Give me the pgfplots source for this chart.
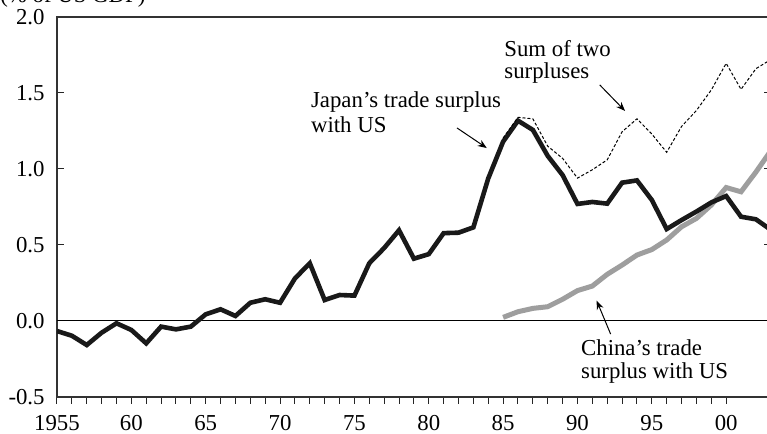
\documentclass[border=0pt]{standalone}
\usepackage{fontspec}
\setmainfont{Liberation Serif}
\usepackage{pgfplots}
\usepackage{pgfplotstable}
\pgfplotsset{compat=1.18}
\usetikzlibrary{arrows.meta}

\pgfplotstableread{
year val
1955 -0.066
1956 -0.097
1957 -0.158
1958 -0.077
1959 -0.015
1960 -0.059
1961 -0.147
1962 -0.037
1963 -0.055
1964 -0.037
1965 0.044
1966 0.077
1967 0.033
1968 0.120
1969 0.143
1970 0.120
1971 0.280
1972 0.380
1973 0.138
1974 0.171
1975 0.167
1976 0.380
1977 0.480
1978 0.597
1979 0.410
1980 0.440
1981 0.578
1982 0.581
1983 0.616
1984 0.938
1985 1.180
1986 1.318
1987 1.257
1988 1.086
1989 0.960
1990 0.770
1991 0.783
1992 0.772
1993 0.910
1994 0.925
1995 0.796
1996 0.605
1997 0.664
1998 0.720
1999 0.780
2000 0.822
2001 0.686
2002 0.669
2003 0.600
}\japan

\pgfplotstableread{
year val
1985 0.024
1986 0.061
1987 0.083
1988 0.094
1989 0.143
1990 0.200
1991 0.230
1992 0.307
1993 0.368
1994 0.434
1995 0.470
1996 0.533
1997 0.620
1998 0.675
1999 0.763
2000 0.878
2001 0.850
2002 0.980
2003 1.120
}\china

\pgfplotstableread{
year val
1985 1.204
1986 1.340
1987 1.330
1988 1.150
1989 1.070
1990 0.940
1991 0.995
1992 1.060
1993 1.245
1994 1.330
1995 1.230
1996 1.110
1997 1.280
1998 1.385
1999 1.520
2000 1.695
2001 1.524
2002 1.660
2003 1.720
}\sumtwo

\begin{document}
\fontsize{11.4}{13.7}\selectfont
\begin{tikzpicture}
\begin{axis}[name=ax, scale only axis, width=356.9pt, height=190pt,
  xmin=1955, xmax=2003, ymin=-0.5, ymax=2,
  xtick={1955,1960,...,2000},
  xticklabels={1955,60,65,70,75,80,85,90,95,00},
  minor x tick num=4,
  ytick={-0.5,0,0.5,1,1.5,2},
  yticklabels={-0.5,0.0,0.5,1.0,1.5,2.0},
  xtick pos=bottom, ytick pos=both,
  xtick align=outside, ytick align=inside,
  major tick length=3.3pt, minor tick length=3.3pt,
  axis line style={black!80, line width=0.8pt},
  tick style={black!85, line width=0.5pt},
  ticklabel style={font=\fontsize{11.4}{13.7}\selectfont},
  yticklabel style={xshift=-2.2pt},
  xticklabel style={yshift=-2pt},
]
\draw[black, line width=0.5pt] (axis cs:1955,0) -- (axis cs:2003,0);
\addplot[black!38, line width=2.5pt] table[x=year,y=val] {\china};
\addplot[black!90, line width=2.3pt] table[x=year,y=val] {\japan};
\addplot[black, line width=0.5pt, dash pattern=on 1.5pt off 1pt] table[x=year,y=val] {\sumtwo};

\node[anchor=base west, inner sep=0] at (axis cs:1972.06,1.406) {Japan’s trade surplus};
\node[anchor=base west, inner sep=0] at (axis cs:1972.06,1.239) {with US};
\node[anchor=base west, inner sep=0] at (axis cs:1985.06,1.739) {Sum of two};
\node[anchor=base west, inner sep=0] at (axis cs:1985.06,1.596) {surpluses};
\node[anchor=base west, inner sep=0] at (axis cs:1990.22,-0.230) {China’s trade};
\node[anchor=base west, inner sep=0] at (axis cs:1990.22,-0.377) {surplus with US};

\draw[line width=0.5pt, -{Stealth[length=4.5pt,width=3.5pt]}] (axis cs:1981.9,1.27) -- (axis cs:1983.9,1.138);
\draw[line width=0.5pt, -{Stealth[length=4.5pt,width=3.5pt]}] (axis cs:1991.5,1.553) -- (axis cs:1993.2,1.382);
\draw[line width=0.5pt, -{Stealth[length=4.5pt,width=3.5pt]}] (axis cs:1992.23,-0.086) -- (axis cs:1991.29,0.134);
\end{axis}
\node[anchor=base west, inner sep=0] at ([xshift=-28.5pt,yshift=7.25pt]ax.north west) {(\% of US GDP)};
\pgfresetboundingbox
\useasboundingbox ([xshift=-28.5pt,yshift=-18.5pt]ax.south west) rectangle ([xshift=355pt,yshift=8.5pt]ax.north west);
\end{tikzpicture}
\end{document}
